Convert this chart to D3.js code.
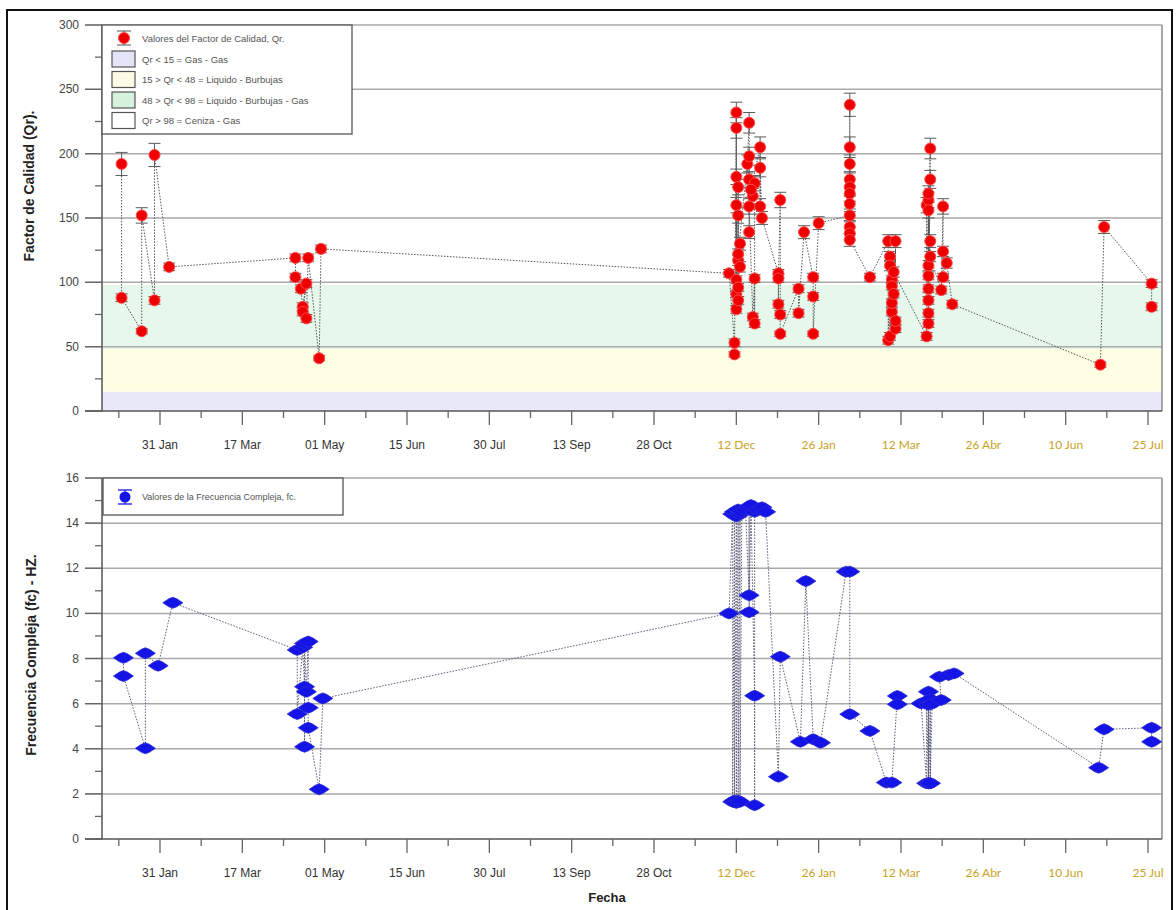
<!DOCTYPE html>
<html>
<head>
<meta charset="utf-8">
<script src="https://cdn.jsdelivr.net/npm/d3@7"></script>
<style>
  html, body { margin: 0; padding: 0; background: #fff; }
  svg { display: block; }
</style>
</head>
<body>
<svg id="chart" width="1176" height="910"></svg>
<script>
// ---- Factor de Calidad (Qr): fecha, valor, error ----
const qrDates = [
  "2014-01-10","2014-01-10","2014-01-21","2014-01-21","2014-01-28","2014-01-28","2014-02-05",
  "2014-04-15","2014-04-15","2014-04-18","2014-04-19","2014-04-21","2014-04-19","2014-04-21","2014-04-22","2014-04-28","2014-04-29",
  "2014-12-08","2014-12-11","2014-12-11","2014-12-12","2014-12-12","2014-12-12","2014-12-12","2014-12-12","2014-12-12","2014-12-12",
  "2014-12-13","2014-12-13","2014-12-13","2014-12-13","2014-12-13","2014-12-14","2014-12-14","2014-12-13",
  "2014-12-18","2014-12-19","2014-12-19","2014-12-19","2014-12-19","2014-12-19","2014-12-21","2014-12-22","2014-12-22","2014-12-22",
  "2014-12-21","2014-12-20","2014-12-25","2014-12-25","2014-12-25","2014-12-26",
  "2015-01-04","2015-01-04","2015-01-04","2015-01-05","2015-01-05","2015-01-05",
  "2015-01-15","2015-01-15","2015-01-18","2015-01-23","2015-01-23","2015-01-23","2015-01-26",
  "2015-02-12","2015-02-12","2015-02-12","2015-02-12","2015-02-12","2015-02-12","2015-02-12","2015-02-12","2015-02-12","2015-02-12","2015-02-12",
  "2015-02-23",
  "2015-03-05","2015-03-05","2015-03-06","2015-03-06","2015-03-06","2015-03-07","2015-03-07","2015-03-07","2015-03-07","2015-03-08","2015-03-09","2015-03-09","2015-03-09","2015-03-08",
  "2015-03-26","2015-03-26","2015-03-27","2015-03-27","2015-03-27","2015-03-27","2015-03-27","2015-03-28","2015-03-27","2015-03-28","2015-03-27","2015-03-27","2015-03-27","2015-03-28","2015-03-28",
  "2015-04-03","2015-04-04","2015-04-04","2015-04-04","2015-04-06","2015-04-09",
  "2015-06-29","2015-07-01","2015-07-27","2015-07-27"
];
const qrValues = [
  192,88,62,152,86,199,112,
  119,104,95,81,99,77,72,119,41,126,
  107,53,44,232,79,220,91,182,102,160,
  96,174,117,152,86,130,112,122,
  192,224,139,198,180,159,73,103,68,177,
  167,172,205,159,189,150,
  107,83,103,164,75,60,
  95,76,139,104,89,60,146,
  152,238,205,192,180,174,169,161,143,138,133,
  104,
  132,55,120,58,113,77,102,84,97,91,64,132,70,108,
  58,160,68,164,76,169,86,180,95,204,105,156,113,132,120,
  94,159,124,104,115,83,
  36,143,99,81
];
const qrErrors = [
  9,3,2,6,3,9,3,
  3,3,3,3,3,3,3,3,2,3,
  3,3,2,8,3,8,3,6,3,6,
  3,6,4,6,3,5,4,4,
  7,8,5,7,6,6,3,3,3,6,
  6,6,8,6,7,5,
  3,3,3,6,3,2,
  3,3,5,3,3,2,5,
  5,9,8,7,6,6,6,6,5,5,5,
  3,
  5,3,4,3,4,3,3,3,3,3,3,5,3,4,
  3,6,3,6,3,6,3,7,3,8,3,6,4,5,4,
  3,6,4,3,4,3,
  2,5,3,3
];

// ---- Frecuencia Compleja (fc) en Hz ----
const fcDates = [
  "2014-01-11","2014-01-11","2014-01-23","2014-01-23","2014-01-30","2014-02-07",
  "2014-04-16","2014-04-16","2014-04-19","2014-04-20","2014-04-20","2014-04-20","2014-04-21","2014-04-22","2014-04-22","2014-04-22","2014-04-28","2014-04-30",
  "2014-12-08","2014-12-10","2014-12-10","2014-12-11","2014-12-11","2014-12-12","2014-12-12","2014-12-13","2014-12-13","2014-12-14","2014-12-14",
  "2014-12-15","2014-12-17","2014-12-19","2014-12-19","2014-12-19","2014-12-20","2014-12-22","2014-12-22","2014-12-22","2014-12-24","2014-12-26","2014-12-28",
  "2015-01-04","2015-01-05","2015-01-16","2015-01-19","2015-01-23","2015-01-27",
  "2015-02-10","2015-02-12","2015-02-12","2015-02-23","2015-03-04","2015-03-07","2015-03-10","2015-03-10",
  "2015-03-23","2015-03-26","2015-03-26","2015-03-27","2015-03-27","2015-03-27","2015-03-27","2015-03-28","2015-03-28","2015-03-28","2015-03-29",
  "2015-04-03","2015-04-02","2015-04-07","2015-04-10",
  "2015-06-28","2015-07-01","2015-07-27","2015-07-27"
];
const fcValues = [
  8.03,7.22,4.02,8.23,7.68,10.47,
  8.38,5.54,8.5,6.75,4.09,8.67,6.53,8.75,5.82,4.93,2.2,6.23,
  10.0,14.4,1.65,14.5,1.7,14.3,1.6,14.6,1.7,14.4,1.65,
  14.5,14.6,10.8,14.7,10.05,14.8,6.35,1.5,14.5,14.6,14.7,14.5,
  2.76,8.08,4.31,11.43,4.42,4.27,
  11.85,11.85,5.53,4.79,2.5,2.5,6.34,5.97,
  6.01,2.47,6.1,2.47,5.95,2.47,6.53,2.47,6.2,2.47,6.0,
  6.16,7.19,7.27,7.34,
  3.16,4.86,4.93,4.31
];

// ---- Ejes ----
const xTickDates = ["2014-01-31","2014-03-17","2014-05-01","2014-06-15","2014-07-30","2014-09-13","2014-10-28",
                    "2014-12-12","2015-01-26","2015-03-12","2015-04-26","2015-06-10","2015-07-25"];
const xTickLabels = ["31 Jan","17 Mar","01 May","15 Jun","30 Jul","13 Sep","28 Oct",
                     "12 Dec","26 Jan","12 Mar","26 Abr","10 Jun","25 Jul"];
const qrTicks = [0,50,100,150,200,250,300];
const fcTicks = [0,2,4,6,8,10,12,14,16];

// ---- Regiones de flujo (Qr) ----
const bandLow  = [0, 15, 48];
const bandHigh = [15, 48, 98];
const bandColors = ["#e8e8f8", "#fdfde2", "#e6f7ec"];
const legendLabels = ["Qr < 15 = Gas - Gas", "15 > Qr < 48 = Liquido - Burbujas",
                      "48 > Qr < 98 = Liquido - Burbujas - Gas", "Qr > 98 = Ceniza - Gas"];
const legendSwatches = ["#e4e4f8", "#fbfbe6", "#d6f2dc", "#ffffff"];

const parse = d3.utcParse("%Y-%m-%d");
const svg = d3.select("#chart");

const left = 102, right = 1162;
const x = d3.scaleUtc()
  .domain([parse(xTickDates[0]), parse(xTickDates[xTickDates.length - 1])])
  .range([160, 1148]);

const yQ = d3.scaleLinear().domain([0, 300]).range([411, 25]);
const yF = d3.scaleLinear().domain([0, 16]).range([839, 478]);

const qr = qrDates.map((d, i) => ({ date: parse(d), v: qrValues[i], e: qrErrors[i] }));
const fc = fcDates.map((d, i) => ({ date: parse(d), v: fcValues[i] }));

const tickDates = xTickDates.map(parse);
const minorDates = [];
for (let i = 0; i < tickDates.length - 1; i++) {
  minorDates.push(new Date((+tickDates[i] + +tickDates[i + 1]) / 2));
}
minorDates.unshift(new Date(+tickDates[0] - (tickDates[1] - tickDates[0]) / 2));

const fontMain = "'Liberation Sans', Arial, sans-serif";

// outer frame
svg.append("rect").attr("x", 7).attr("y", 10).attr("width", 1165).attr("height", 905)
  .attr("fill", "none").attr("stroke", "#111").attr("stroke-width", 2);

function drawPanel(g, y, ticks) {
  const top = y.range()[1], bottom = y.range()[0];
  // grid lines (extend over the tick area)
  g.append("g").selectAll("line").data(ticks.filter(t => t !== 0)).join("line")
    .attr("x1", left - 17).attr("x2", right)
    .attr("y1", d => y(d)).attr("y2", d => y(d))
    .attr("stroke", "#a9a9a9").attr("stroke-width", 1.5);
  // right border
  g.append("line").attr("x1", right).attr("x2", right).attr("y1", top).attr("y2", bottom)
    .attr("stroke", "#8a8a8a").attr("stroke-width", 1.5);
}

function drawAxes(g, y, ticks, minorStep) {
  const top = y.range()[1], bottom = y.range()[0];
  const minor = d3.range(y.domain()[0] + minorStep, y.domain()[1], minorStep * 2);
  // y axis line
  g.append("line").attr("x1", left).attr("x2", left).attr("y1", top).attr("y2", bottom)
    .attr("stroke", "#555").attr("stroke-width", 1.5);
  g.append("g").selectAll("line").data(ticks).join("line")
    .attr("x1", left - 17).attr("x2", left).attr("y1", d => y(d)).attr("y2", d => y(d))
    .attr("stroke", "#666").attr("stroke-width", 1.3);
  g.append("g").selectAll("line").data(minor).join("line")
    .attr("x1", left - 7).attr("x2", left).attr("y1", d => y(d)).attr("y2", d => y(d))
    .attr("stroke", "#666").attr("stroke-width", 1.3);
  g.append("g").selectAll("text").data(ticks).join("text")
    .attr("x", left - 23).attr("y", d => y(d) + 4)
    .attr("text-anchor", "end").attr("font-family", fontMain).attr("font-size", 12)
    .attr("fill", "#444").text(d => d);
  // x axis
  g.append("line").attr("x1", left - 17).attr("x2", right).attr("y1", bottom).attr("y2", bottom)
    .attr("stroke", "#555").attr("stroke-width", 1.5);
  g.append("g").selectAll("line").data(tickDates).join("line")
    .attr("x1", d => x(d)).attr("x2", d => x(d)).attr("y1", bottom).attr("y2", bottom + 14)
    .attr("stroke", "#666").attr("stroke-width", 1.3);
  g.append("g").selectAll("line").data(minorDates).join("line")
    .attr("x1", d => x(d)).attr("x2", d => x(d)).attr("y1", bottom).attr("y2", bottom + 7)
    .attr("stroke", "#666").attr("stroke-width", 1.3);
  g.append("g").selectAll("text").data(tickDates).join("text")
    .attr("x", d => x(d)).attr("y", bottom + 38)
    .attr("text-anchor", "middle")
    .attr("font-family", (d, i) => i < 7 ? fontMain : "Lato, 'Open Sans', sans-serif")
    .attr("font-size", 12)
    .attr("fill", (d, i) => i < 7 ? "#333" : "#c9a227")
    .text((d, i) => xTickLabels[i]);
}

// ================= Panel superior: Qr =================
const gTop = svg.append("g");
// flow regime bands
gTop.append("g").selectAll("rect").data(bandLow).join("rect")
  .attr("x", left).attr("width", right - left)
  .attr("y", (d, i) => yQ(bandHigh[i]))
  .attr("height", (d, i) => yQ(bandLow[i]) - yQ(bandHigh[i]))
  .attr("fill", (d, i) => bandColors[i]);
drawPanel(gTop, yQ, qrTicks);

// connecting dotted line
gTop.append("path").datum(qr)
  .attr("d", d3.line().x(d => x(d.date)).y(d => yQ(d.v)))
  .attr("fill", "none").attr("stroke", "#555").attr("stroke-width", 1)
  .attr("stroke-dasharray", "1.5,1.5");

// error bars
const eb = gTop.append("g").attr("stroke", "#5a5a5a").attr("stroke-width", 1);
eb.selectAll("line.v").data(qr).join("line").attr("class", "v")
  .attr("x1", d => x(d.date)).attr("x2", d => x(d.date))
  .attr("y1", d => yQ(d.v - d.e)).attr("y2", d => yQ(d.v + d.e));
eb.selectAll("line.t").data(qr).join("line").attr("class", "t")
  .attr("x1", d => x(d.date) - 6).attr("x2", d => x(d.date) + 6)
  .attr("y1", d => yQ(d.v + d.e)).attr("y2", d => yQ(d.v + d.e));
eb.selectAll("line.b").data(qr).join("line").attr("class", "b")
  .attr("x1", d => x(d.date) - 6).attr("x2", d => x(d.date) + 6)
  .attr("y1", d => yQ(d.v - d.e)).attr("y2", d => yQ(d.v - d.e));

gTop.append("g").selectAll("circle").data(qr).join("circle")
  .attr("cx", d => x(d.date)).attr("cy", d => yQ(d.v)).attr("r", 5.5)
  .attr("fill", "#ee0000").attr("stroke", "#ff4a4a").attr("stroke-width", 1);

drawAxes(gTop, yQ, qrTicks, 25);

// legend (top)
const lg = svg.append("g");
lg.append("rect").attr("x", 102).attr("y", 25).attr("width", 250).attr("height", 109)
  .attr("fill", "#fff").attr("stroke", "#555").attr("stroke-width", 1.3);
lg.append("line").attr("x1", 124).attr("x2", 124).attr("y1", 31).attr("y2", 45).attr("stroke", "#555");
lg.append("line").attr("x1", 117).attr("x2", 131).attr("y1", 31).attr("y2", 31).attr("stroke", "#555");
lg.append("line").attr("x1", 117).attr("x2", 131).attr("y1", 45).attr("y2", 45).attr("stroke", "#555");
lg.append("circle").attr("cx", 124).attr("cy", 38).attr("r", 5.5).attr("fill", "#ee0000").attr("stroke", "#ff4a4a");
lg.append("text").attr("x", 142).attr("y", 42).attr("font-family", fontMain).attr("font-size", 9.5)
  .attr("fill", "#555").text("Valores del Factor de Calidad, Qr.");
lg.selectAll("rect.sw").data(legendLabels).join("rect").attr("class", "sw")
  .attr("x", 112).attr("y", (d, i) => 51 + i * 20.5).attr("width", 23).attr("height", 16)
  .attr("fill", (d, i) => legendSwatches[i]).attr("stroke", "#555").attr("stroke-width", 1.2);
lg.selectAll("text.lb").data(legendLabels).join("text").attr("class", "lb")
  .attr("x", 142).attr("y", (d, i) => 62.5 + i * 20.5)
  .attr("font-family", fontMain).attr("font-size", 9.5).attr("fill", "#555").text(d => d);

// ================= Panel inferior: fc =================
const gBot = svg.append("g");
drawPanel(gBot, yF, fcTicks);

gBot.append("path").datum(fc)
  .attr("d", d3.line().x(d => x(d.date)).y(d => yF(d.v)))
  .attr("fill", "none").attr("stroke", "#5b5b7a").attr("stroke-width", 1)
  .attr("stroke-dasharray", "1.5,1.5");

const marker = "M-10,0 L-4,-4 L0,-5.5 L4,-4 L10,0 L4,4 L0,5.5 L-4,4 Z";
gBot.append("g").selectAll("path").data(fc).join("path")
  .attr("transform", d => `translate(${x(d.date)},${yF(d.v)})`)
  .attr("d", marker).attr("fill", "#1414e6").attr("stroke", "#2b2bd0").attr("stroke-width", 0.8);

drawAxes(gBot, yF, fcTicks, 1);

// legend (bottom)
const lb = svg.append("g");
lb.append("rect").attr("x", 103).attr("y", 478).attr("width", 240).attr("height", 37)
  .attr("fill", "#fff").attr("stroke", "#555").attr("stroke-width", 1.3);
lb.append("line").attr("x1", 118).attr("x2", 132).attr("y1", 490).attr("y2", 490).attr("stroke", "#1414e6").attr("stroke-width", 1.3);
lb.append("line").attr("x1", 118).attr("x2", 132).attr("y1", 504).attr("y2", 504).attr("stroke", "#1414e6").attr("stroke-width", 1.3);
lb.append("line").attr("x1", 125).attr("x2", 125).attr("y1", 490).attr("y2", 504).attr("stroke", "#1414e6");
lb.append("circle").attr("cx", 125).attr("cy", 497).attr("r", 5.5).attr("fill", "#1414e6");
lb.append("text").attr("x", 142).attr("y", 500).attr("font-family", fontMain).attr("font-size", 9)
  .attr("fill", "#555").text("Valores de la Frecuencia Compleja, fc.");

// axis titles
svg.append("text").attr("transform", "translate(34,186) rotate(-90)")
  .attr("text-anchor", "middle").attr("font-family", fontMain).attr("font-size", 14)
  .attr("font-weight", "bold").attr("fill", "#222").text("Factor de Calidad (Qr).");
svg.append("text").attr("transform", "translate(36,655) rotate(-90)")
  .attr("text-anchor", "middle").attr("font-family", fontMain).attr("font-size", 14)
  .attr("font-weight", "bold").attr("fill", "#222").text("Frecuencia Compleja (fc) - HZ.");
svg.append("text").attr("x", 607).attr("y", 902)
  .attr("text-anchor", "middle").attr("font-family", fontMain).attr("font-size", 13)
  .attr("font-weight", "bold").attr("fill", "#222").text("Fecha");
</script>
</body>
</html>
